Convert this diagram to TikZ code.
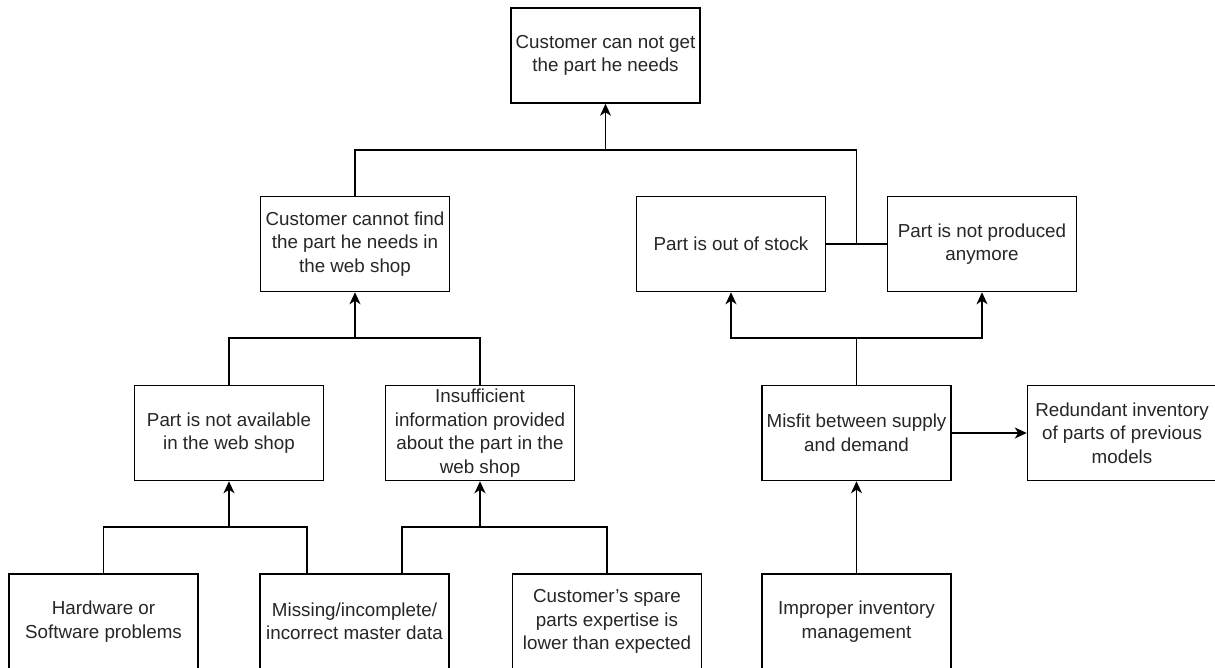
\documentclass[tikz,border=0pt]{standalone}
\usepackage{fontspec}
\setmainfont{Liberation Sans}
\usetikzlibrary{arrows.meta}
\begin{document}
\begin{tikzpicture}[x=1pt,y=1pt,
  box/.style={draw=black, line width=1.5pt, minimum width=189pt, minimum height=95pt,
    inner sep=0pt, align=center, font=\fontsize{18.8}{23.5}\selectfont, text=black!85},
  conn/.style={line width=1.5pt, draw=black},
  arr/.style={conn, -{Stealth[length=12pt,width=11pt,inset=3.5pt]}}]
\clip (0,0) rectangle (1215,-668);
\fill[white] (0,0) rectangle (1215,-668);

\node[box] (top) at (605.5,-55.5) {Customer can not get\\the part he needs};
\node[box] (find) at (355,-244) {Customer cannot find\\the part he needs in\\the web shop};
\node[box] (stock) at (731,-244) {Part is out of stock};
\node[box] (prod) at (982,-244) {Part is not produced\\anymore};
\node[box] (avail) at (229,-433) {Part is not available\\in the web shop};
\node[box] (insuf) at (480,-433) {Insufficient\\information provided\\about the part in the\\web shop};
\node[box] (misfit) at (856.5,-433) {Misfit between supply\\and demand};
\node[box] (redund) at (1122,-433) {Redundant inventory\\of parts of previous\\models};
\node[box] (hw) at (103.5,-621.5) {Hardware or\\Software problems};
\node[box] (miss) at (354.5,-621.5) {Missing/incomplete/\\incorrect master data};
\node[box] (spare) at (607,-621.5) {Customer\char39{}s spare\\parts expertise is\\lower than expected};
\node[box] (impr) at (856.5,-621.5) {Improper inventory\\management};

% top level
\coordinate (jtop) at (top.south |- 0,-150);
\coordinate (jsp) at (misfit.north |- stock.east);
\draw[conn] (stock.east) -- (prod.west);
\draw[conn] (find.north) |- (jtop) -| (jsp);
\draw[arr] (jtop) -- (top.south);

% right group
\coordinate (jm) at (misfit.north |- 0,-338);
\draw[conn] (misfit.north) -- (jm);
\draw[arr] (jm) -| (stock.south);
\draw[arr] (jm) -| (prod.south);
\draw[arr] (misfit.east) -- (redund.west);
\draw[arr] (impr.north) -- (misfit.south);

% middle left group
\coordinate (jf) at (find.south |- 0,-338);
\draw[conn] (avail.north) |- (jf) -| (insuf.north);
\draw[arr] (jf) -- (find.south);

% bottom left groups
\coordinate (ja) at (avail.south |- 0,-527);
\draw[conn] (hw.north) |- (ja) -| ([xshift=-47.5pt]miss.north);
\draw[arr] (ja) -- (avail.south);
\coordinate (ji) at (insuf.south |- 0,-527);
\draw[conn] ([xshift=47.5pt]miss.north) |- (ji) -| (spare.north);
\draw[arr] (ji) -- (insuf.south);
\end{tikzpicture}
\end{document}
